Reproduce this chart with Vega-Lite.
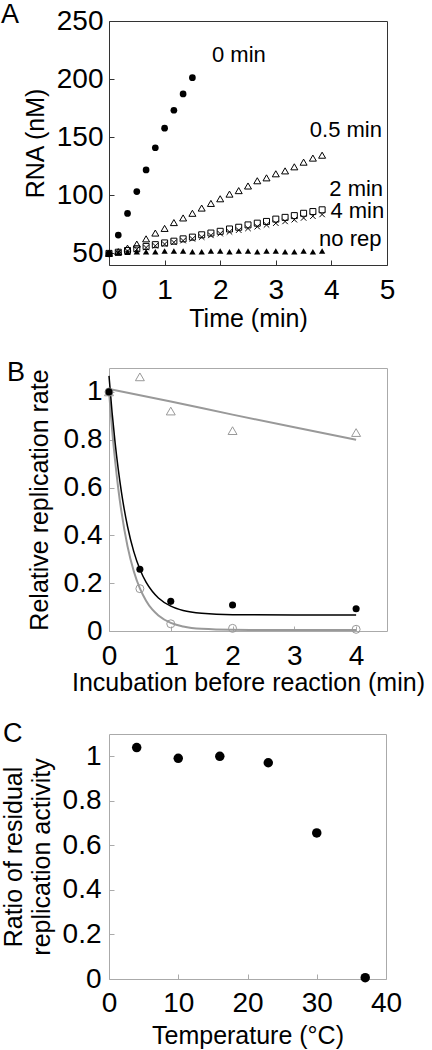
{
  "$schema": "https://vega.github.io/schema/vega-lite/v6.json",
  "padding": {"left": 0, "top": 0, "right": 0, "bottom": 0},
  "spacing": 103,
  "bounds": "flush",
  "config": {
    "font": "Liberation Sans",
    "axis": {"grid": false, "domain": false, "labelFontSize": 28, "titleFontSize": 25, "titleFontWeight": "normal", "labelColor": "black", "titleColor": "black", "tickSize": -5, "labelFlush": false, "labelOverlap": false, "labelFont": "Liberation Sans", "titleFont": "Liberation Sans"},
    "title": {"fontSize": 27, "fontWeight": "normal", "anchor": "start", "frame": "group", "offset": 0, "baseline": "alphabetic", "color": "black", "font": "Liberation Sans"}
  },
  "datasets": {
    "a0": [{"t":0,"v":49.5},{"t":0.167,"v":65.8},{"t":0.333,"v":84.4},{"t":0.5,"v":103.2},{"t":0.667,"v":121.8},{"t":0.833,"v":140.9},{"t":1.0,"v":157.8},{"t":1.167,"v":173.2},{"t":1.333,"v":187.2},{"t":1.5,"v":201.2}],
    "a05": [{"t":0,"v":50},{"t":0.167,"v":51.5},{"t":0.333,"v":54.5},{"t":0.5,"v":58},{"t":0.667,"v":62.5},{"t":0.833,"v":67.5},{"t":1.0,"v":71.5},{"t":1.167,"v":76.5},{"t":1.333,"v":80.5},{"t":1.5,"v":84.5},{"t":1.667,"v":89},{"t":1.833,"v":93},{"t":2.0,"v":97},{"t":2.167,"v":101},{"t":2.333,"v":104},{"t":2.5,"v":108},{"t":2.667,"v":112.5},{"t":2.833,"v":115},{"t":3.0,"v":118.5},{"t":3.167,"v":121},{"t":3.333,"v":124.5},{"t":3.5,"v":128.5},{"t":3.667,"v":132},{"t":3.833,"v":134.5}],
    "a2": [{"t":0,"v":50},{"t":0.167,"v":51},{"t":0.333,"v":52.5},{"t":0.5,"v":54},{"t":0.667,"v":56},{"t":0.833,"v":57.5},{"t":1.0,"v":59},{"t":1.167,"v":60.5},{"t":1.333,"v":62.5},{"t":1.5,"v":64},{"t":1.667,"v":66},{"t":1.833,"v":67.5},{"t":2.0,"v":69},{"t":2.167,"v":71},{"t":2.333,"v":72.5},{"t":2.5,"v":74.5},{"t":2.667,"v":76},{"t":2.833,"v":77.5},{"t":3.0,"v":79.5},{"t":3.167,"v":81},{"t":3.333,"v":82.5},{"t":3.5,"v":84.5},{"t":3.667,"v":86},{"t":3.833,"v":87.5}],
    "a4": [{"t":0,"v":50},{"t":0.167,"v":50.5},{"t":0.333,"v":52},{"t":0.5,"v":53.5},{"t":0.667,"v":55},{"t":0.833,"v":56.5},{"t":1.0,"v":58},{"t":1.167,"v":59.5},{"t":1.333,"v":61},{"t":1.5,"v":62.5},{"t":1.667,"v":64},{"t":1.833,"v":65.5},{"t":2.0,"v":67},{"t":2.167,"v":68.5},{"t":2.333,"v":70},{"t":2.5,"v":71.5},{"t":2.667,"v":73},{"t":2.833,"v":74.5},{"t":3.0,"v":76},{"t":3.167,"v":77.5},{"t":3.333,"v":79},{"t":3.5,"v":80.5},{"t":3.667,"v":82},{"t":3.833,"v":83.5}],
    "anr": [{"t":0,"v":50},{"t":0.167,"v":50.5},{"t":0.333,"v":51},{"t":0.5,"v":51.5},{"t":0.667,"v":51.5},{"t":0.833,"v":51.5},{"t":1.0,"v":52},{"t":1.167,"v":52},{"t":1.333,"v":52},{"t":1.5,"v":51.5},{"t":1.667,"v":51.5},{"t":1.833,"v":52},{"t":2.0,"v":52},{"t":2.167,"v":51.5},{"t":2.333,"v":52},{"t":2.5,"v":52},{"t":2.667,"v":51.5},{"t":2.833,"v":52},{"t":3.0,"v":52},{"t":3.167,"v":51.5},{"t":3.333,"v":51.5},{"t":3.5,"v":52},{"t":3.667,"v":51.5},{"t":3.833,"v":52}],
    "alab": [{"t":2.82,"v":220.4,"label":"0 min"},{"t":4.91,"v":156.2,"label":"0.5 min"},{"t":4.93,"v":105.8,"label":"2 min"},{"t":4.95,"v":86.4,"label":"4 min"},{"t":4.9,"v":62,"label":"no rep"}],
    "bk": [{"x":0,"y":1.0},{"x":0.5,"y":0.258},{"x":1,"y":0.124},{"x":2,"y":0.109},{"x":4,"y":0.093}],
    "bo": [{"x":0,"y":1.0},{"x":0.5,"y":0.177},{"x":1,"y":0.03},{"x":2,"y":0.011},{"x":4,"y":0.007}],
    "bt": [{"x":0,"y":1.0},{"x":0.5,"y":1.063},{"x":1,"y":0.92},{"x":2,"y":0.838},{"x":4,"y":0.83}],
    "bfk": [{"x":0,"y":1.067},{"x":0.05,"y":0.914},{"x":0.1,"y":0.785},{"x":0.15,"y":0.676},{"x":0.2,"y":0.583},{"x":0.3,"y":0.437},{"x":0.4,"y":0.333},{"x":0.5,"y":0.258},{"x":0.6,"y":0.204},{"x":0.7,"y":0.166},{"x":0.8,"y":0.138},{"x":1.0,"y":0.104},{"x":1.2,"y":0.086},{"x":1.5,"y":0.074},{"x":2,"y":0.068},{"x":3,"y":0.067},{"x":4,"y":0.067}],
    "bfo": [{"x":0,"y":1.004},{"x":0.05,"y":0.843},{"x":0.1,"y":0.709},{"x":0.15,"y":0.596},{"x":0.2,"y":0.501},{"x":0.3,"y":0.354},{"x":0.4,"y":0.251},{"x":0.5,"y":0.178},{"x":0.6,"y":0.127},{"x":0.7,"y":0.09},{"x":0.8,"y":0.065},{"x":1.0,"y":0.034},{"x":1.2,"y":0.019},{"x":1.5,"y":0.009},{"x":2,"y":0.005},{"x":3,"y":0.004},{"x":4,"y":0.004}],
    "bft": [{"x":0,"y":1.012},{"x":1,"y":0.96},{"x":2,"y":0.905},{"x":3,"y":0.852},{"x":4,"y":0.8}],
    "c": [{"x":4,"y":1.039},{"x":10,"y":0.991},{"x":16,"y":1.0},{"x":23,"y":0.971},{"x":30,"y":0.656},{"x":37,"y":0.006}]
  },
  "vconcat": [
    {
      "width": 278, "height": 244,
      "title": {"text": "A", "dx": -108, "dy": 26},
      "view": {"stroke": "#333"},
      "encoding": {
        "x": {"field": "t", "type": "quantitative", "scale": {"domain": [0, 5], "nice": false}, "axis": {"values": [0,1,2,3,4,5], "title": "Time (min)", "labelPadding": 16, "titlePadding": 2, "tickColor": "#333"}},
        "y": {"field": "v", "type": "quantitative", "scale": {"domain": [40, 250], "nice": false, "zero": false}, "axis": {"values": [50,100,150,200,250], "title": "RNA (nM)", "labelPadding": 11, "titlePadding": 8, "tickColor": "#333"}}
      },
      "layer": [
        {"data": {"name": "anr"}, "mark": {"type": "point", "shape": "triangle-up", "filled": true, "color": "black", "opacity": 1, "size": 40}},
        {"data": {"name": "a4"}, "mark": {"type": "point", "shape": "M-1,-1L1,1M1,-1L-1,1", "filled": false, "color": "black", "opacity": 1, "strokeWidth": 1, "size": 30}},
        {"data": {"name": "a2"}, "mark": {"type": "point", "shape": "square", "filled": false, "color": "black", "opacity": 1, "strokeWidth": 1, "size": 36}},
        {"data": {"name": "a05"}, "mark": {"type": "point", "shape": "triangle-up", "filled": false, "color": "black", "opacity": 1, "strokeWidth": 1, "size": 49}},
        {"data": {"name": "a0"}, "mark": {"type": "point", "shape": "circle", "filled": true, "color": "black", "opacity": 1, "size": 45}},
        {"data": {"name": "alab"}, "mark": {"type": "text", "align": "right", "baseline": "middle", "fontSize": 22, "font": "Liberation Sans", "color": "black"}, "encoding": {"text": {"field": "label"}}}
      ]
    },
    {
      "width": 278, "height": 263,
      "title": {"text": "B", "dx": -102, "dy": 23},
      "view": {"stroke": "#aaa"},
      "encoding": {
        "x": {"field": "x", "type": "quantitative", "scale": {"domain": [0, 4.5], "nice": false}, "axis": {"values": [0,1,2,3,4], "title": "Incubation before reaction (min)", "labelPadding": 16, "titlePadding": 0, "tickColor": "#aaa"}},
        "y": {"field": "y", "type": "quantitative", "scale": {"domain": [0, 1.1], "nice": false}, "axis": {"values": [0,0.2,0.4,0.6,0.8,1], "format": "~g", "title": "Relative replication rate", "labelPadding": 12, "titlePadding": 11, "tickColor": "#aaa"}}
      },
      "layer": [
        {"data": {"name": "bft"}, "mark": {"type": "line", "interpolate": "monotone", "color": "#999", "strokeWidth": 2}},
        {"data": {"name": "bfo"}, "mark": {"type": "line", "interpolate": "monotone", "color": "#999", "strokeWidth": 2}},
        {"data": {"name": "bfk"}, "mark": {"type": "line", "interpolate": "monotone", "color": "black", "strokeWidth": 1.5}},
        {"data": {"name": "bt"}, "mark": {"type": "point", "shape": "triangle-up", "filled": false, "color": "#999", "opacity": 1, "strokeWidth": 1, "size": 80}},
        {"data": {"name": "bo"}, "mark": {"type": "point", "shape": "circle", "filled": false, "color": "#999", "opacity": 1, "strokeWidth": 1, "size": 64}},
        {"data": {"name": "bk"}, "mark": {"type": "point", "shape": "circle", "filled": true, "color": "black", "opacity": 1, "size": 50}}
      ]
    },
    {
      "width": 277, "height": 245,
      "title": {"text": "C", "dx": -106, "dy": 18},
      "view": {"stroke": "#aaa"},
      "encoding": {
        "x": {"field": "x", "type": "quantitative", "scale": {"domain": [0, 40], "nice": false}, "axis": {"values": [0,10,20,30,40], "title": "Temperature (°C)", "labelPadding": 15, "titlePadding": 6, "tickColor": "#aaa"}},
        "y": {"field": "y", "type": "quantitative", "scale": {"domain": [0, 1.1], "nice": false}, "axis": {"values": [0,0.2,0.4,0.6,0.8,1], "format": "~g", "title": ["Ratio of residual", "replication activity"], "titleLineHeight": 28, "labelPadding": 13, "titlePadding": 8, "tickColor": "#aaa"}}
      },
      "layer": [
        {"data": {"name": "c"}, "mark": {"type": "point", "shape": "circle", "filled": true, "color": "black", "opacity": 1, "size": 90}}
      ]
    }
  ]
}
